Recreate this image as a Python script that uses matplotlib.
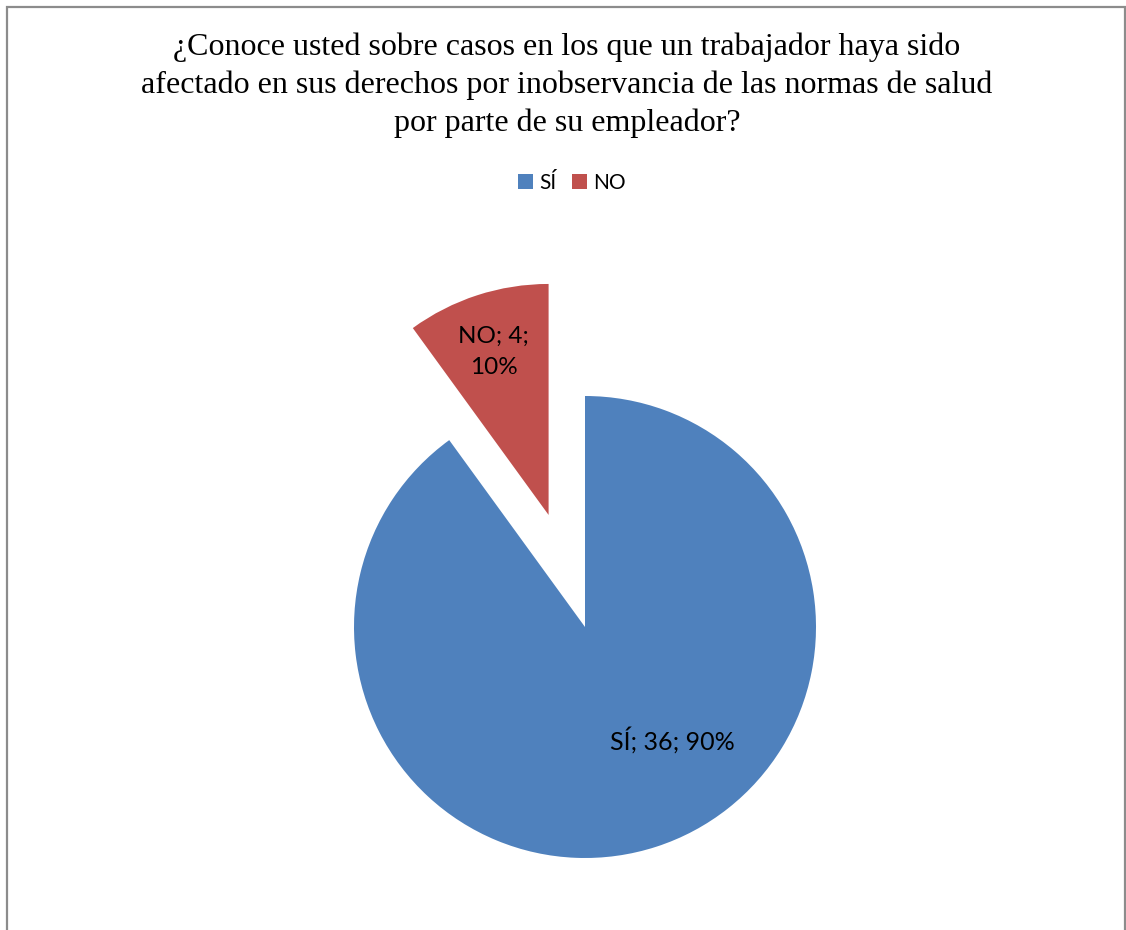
import matplotlib.pyplot as plt
from matplotlib.patches import Rectangle

# datos
categorias = ['SÍ', 'NO']
valores = [36, 4]
porcentajes = [90, 10]
colores = ['#4F81BD', '#C0504D']

titulo = ('¿Conoce usted sobre casos en los que un trabajador haya sido\n'
          'afectado en sus derechos por inobservancia de las normas de salud\n'
          'por parte de su empleador?')

W, H = 1126, 930
fig = plt.figure(figsize=(W / 100, H / 100), dpi=100)

# borde del grafico
fig.patches.append(Rectangle((7 / W, -0.01), (1125 - 7) / W, (H - 7) / H + 0.01,
                             transform=fig.transFigure, fill=False,
                             edgecolor='#8c8c8c', linewidth=1.6))

fig.text(567 / W, 1 - 85.5 / H, titulo, ha='center', va='center',
         family='Liberation Serif', fontsize=23, linespacing=1.37)

# pie: centro en (585, 627) px, radio 231 px
R = 231
cx, cy = 585, 627
ax = fig.add_axes([(cx - 300) / W, (H - cy - 300) / H, 600 / W, 700 / H])

wedges, _ = ax.pie(valores, colors=colores, startangle=90, counterclock=False,
                   explode=[0, 0.51], radius=1,
                   wedgeprops=dict(linewidth=0))
ax.set_xlim(-300 / R, 300 / R)
ax.set_ylim(-300 / R, 400 / R)
ax.set_aspect('auto')
ax.axis('off')

etiquetas = [f'{c}; {v}; {p}%' for c, v, p in zip(categorias, valores, porcentajes)]
ax.text(0.38, -0.49, etiquetas[0], ha='center', va='center',
        family='Lato', fontsize=18)
ax.text(-0.395, 1.19, 'NO; 4;\n10%', ha='center', va='center',
        family='Lato', fontsize=17.5, linespacing=1.6)

leg = fig.legend(wedges, categorias, loc='center', bbox_to_anchor=(572 / W, 1 - 183 / H),
                 ncol=2, frameon=False, prop={'family': 'Lato', 'size': 15},
                 handlelength=0.72, handleheight=0.72, handletextpad=0.3,
                 columnspacing=0.77)

fig.savefig('out.png', dpi=100)
